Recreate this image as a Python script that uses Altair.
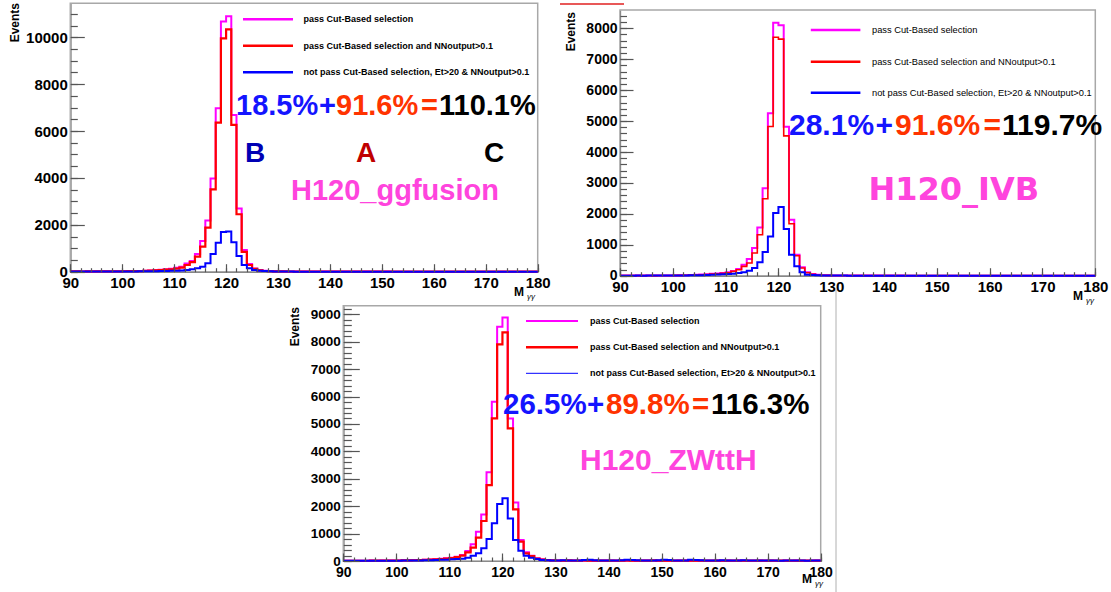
import altair as alt
import pandas as pd

W, H = 1111, 592
FONT = "Liberation Sans"

# bin edges of the diphoton mass histograms (1 GeV bins, 90-180 GeV)
mass_edges = list(range(90, 181))

legend_labels = [
    "pass Cut-Based selection",
    "pass Cut-Based selection and NNoutput>0.1",
    "not pass Cut-Based selection, Et>20 & NNoutput>0.1",
]

# ---------------- H120 ggfusion ----------------
gg_pass = [12, 15, 10, 14, 12, 16, 18, 15, 20, 22,
           25, 28, 30, 35, 40, 55, 68, 82, 100, 125,
           170, 215, 355, 455, 755, 1310, 2180, 3980, 6970, 10670,
           10900, 6690, 2700, 925, 330, 140, 72, 42, 28, 20,
           15, 12, 10, 9, 8, 8, 7, 7, 6, 6,
           6, 5, 5, 5, 5, 4, 4, 4, 4, 4,
           4, 4, 3, 3, 3, 3, 3, 3, 3, 3,
           3, 3, 3, 2, 2, 2, 2, 2, 2, 2,
           2, 2, 2, 2, 2, 2, 2, 2, 2, 2]
gg_nn = [10, 12, 8, 11, 10, 13, 14, 12, 16, 18,
         20, 22, 24, 28, 32, 44, 55, 68, 85, 100,
         130, 170, 285, 410, 640, 1070, 1880, 3510, 6360, 9950,
         10340, 6260, 2450, 850, 285, 125, 58, 30, 20, 15,
         12, 10, 8, 7, 6, 6, 5, 5, 5, 5,
         4, 4, 4, 4, 4, 3, 3, 3, 3, 3,
         3, 3, 3, 2, 2, 2, 2, 2, 2, 2,
         2, 2, 2, 2, 2, 2, 2, 2, 2, 2,
         2, 2, 2, 1, 1, 1, 1, 1, 1, 1]
gg_notpass = [5, 6, 4, 5, 6, 7, 6, 8, 9, 10,
              10, 12, 13, 15, 17, 20, 23, 26, 30, 36,
              45, 55, 72, 100, 142, 213, 356, 755, 1240, 1690,
              1710, 1255, 670, 285, 142, 72, 43, 25, 15, 10,
              5, 4, 4, 3, 3, 3, 3, 3, 2, 2,
              2, 2, 2, 2, 2, 2, 2, 1, 1, 1,
              1, 1, 1, 1, 1, 1, 1, 1, 1, 1,
              1, 1, 1, 1, 1, 1, 1, 1, 1, 1,
              1, 1, 1, 1, 1, 1, 1, 1, 1, 1]

# ---------------- H120 IVB ----------------
ivb_pass = [3, 4, 3, 5, 4, 6, 5, 7, 8, 9,
            10, 12, 18, 22, 28, 36, 45, 62, 75, 86,
            108, 150, 215, 355, 540, 895, 1560, 2830, 5250, 8180,
            8100, 4820, 1810, 680, 270, 108, 54, 32, 18, 12,
            8, 7, 6, 5, 5, 4, 4, 4, 3, 3,
            3, 3, 3, 3, 2, 2, 2, 2, 2, 2,
            2, 2, 2, 2, 2, 2, 2, 2, 2, 2,
            1, 1, 1, 1, 1, 1, 1, 1, 1, 1,
            1, 1, 1, 1, 1, 1, 1, 1, 1, 1]
ivb_nn = [2, 3, 2, 4, 3, 5, 4, 6, 7, 8,
          9, 10, 15, 19, 24, 30, 38, 54, 65, 75,
          97, 140, 194, 302, 410, 732, 1325, 2490, 4825, 7710,
          7650, 4520, 1680, 646, 248, 97, 43, 22, 14, 9,
          7, 6, 5, 4, 4, 3, 3, 3, 3, 2,
          2, 2, 2, 2, 2, 2, 2, 2, 2, 2,
          2, 2, 1, 1, 1, 1, 1, 1, 1, 1,
          1, 1, 1, 1, 1, 1, 1, 1, 1, 1,
          1, 1, 1, 1, 1, 1, 1, 1, 1, 1]
ivb_notpass = [2, 2, 1, 3, 2, 3, 3, 4, 4, 5,
               6, 7, 9, 11, 14, 18, 22, 28, 36, 45,
               54, 65, 86, 108, 162, 248, 431, 765, 1270, 2025,
               2220, 1510, 680, 302, 108, 32, 20, 12, 8, 5,
               4, 3, 3, 2, 2, 2, 2, 2, 1, 1,
               1, 1, 1, 1, 1, 1, 1, 1, 1, 1,
               1, 1, 1, 1, 1, 1, 1, 1, 1, 1,
               1, 1, 1, 1, 1, 1, 1, 1, 1, 1,
               1, 1, 1, 1, 1, 1, 1, 1, 1, 1]

# ---------------- H120 ZWttH ----------------
zw_pass = [10, 12, 8, 11, 12, 14, 13, 15, 16, 18,
           20, 24, 28, 32, 38, 45, 55, 65, 80, 97,
           122, 158, 220, 365, 610, 1070, 1700, 3235, 5810, 8550,
           8880, 5200, 2130, 766, 316, 195, 97, 61, 40, 28,
           20, 18, 22, 15, 14, 20, 16, 12, 18, 14,
           15, 12, 16, 20, 14, 12, 18, 15, 22, 13,
           14, 16, 12, 19, 15, 12, 14, 17, 13, 12,
           15, 13, 18, 12, 14, 16, 12, 13, 15, 12,
           14, 12, 13, 16, 12, 14, 12, 13, 12, 14]
zw_nn = [8, 10, 7, 9, 10, 12, 11, 13, 14, 16,
         18, 21, 25, 28, 33, 40, 48, 57, 70, 85,
         109, 146, 195, 316, 486, 851, 1460, 2770, 5200, 7900,
         8340, 4840, 1885, 705, 280, 182, 85, 52, 34, 24,
         18, 16, 20, 13, 12, 18, 14, 11, 16, 12,
         13, 11, 14, 18, 12, 11, 16, 13, 20, 12,
         12, 14, 11, 17, 13, 11, 12, 15, 12, 11,
         13, 12, 16, 11, 12, 14, 11, 12, 13, 11,
         12, 11, 12, 14, 11, 12, 11, 12, 11, 12]
zw_notpass = [6, 8, 5, 7, 8, 9, 8, 10, 11, 12,
              13, 15, 17, 19, 22, 26, 30, 36, 42, 50,
              60, 72, 85, 122, 195, 280, 462, 803, 1375, 2080,
              2290, 1555, 766, 377, 195, 122, 73, 40, 28, 20,
              18, 25, 15, 14, 22, 35, 45, 30, 18, 15,
              20, 16, 30, 48, 40, 25, 18, 22, 15, 30,
              42, 35, 20, 16, 22, 50, 38, 25, 18, 15,
              22, 30, 18, 15, 20, 25, 16, 14, 18, 15,
              14, 16, 13, 18, 15, 14, 16, 13, 15, 14]

MAGENTA, RED, BLUE = "#ff00ff", "#ff0000", "#0000ff"
TXT_BLUE, TXT_RED, TXT_PINK = "#1414ff", "#ff3300", "#ff44dd"


def text(s, x, y, size, color="black", weight="bold", align="left",
         baseline="alphabetic", font=FONT, angle=0, style="normal"):
    return alt.Chart(pd.DataFrame({"t": [s]})).mark_text(
        align=align, baseline=baseline, font=font, fontSize=size,
        fontWeight=weight, color=color, angle=angle, fontStyle=style,
    ).encode(x=alt.value(x), y=alt.value(y), text="t:N")


def hseg(xa, xb, y, color, width):
    return alt.Chart(pd.DataFrame({"k": [0]})).mark_rule(
        color=color, strokeWidth=width
    ).encode(x=alt.value(xa), x2=alt.value(xb), y=alt.value(y))


def vseg(x, ya, yb, color, width):
    return alt.Chart(pd.DataFrame({"k": [0]})).mark_rule(
        color=color, strokeWidth=width
    ).encode(x=alt.value(x), y=alt.value(ya), y2=alt.value(yb))


def panel(series, box, ymax, y_major, y_minor, ytick, xlab_size, ylab_size):
    x0, x1, yb, yt = box
    xs = alt.Scale(domain=[90, 180], range=[x0, x1], nice=False, zero=False)
    ys = alt.Scale(domain=[0, ymax], range=[yb, yt], nice=False, zero=False)
    x_major = list(range(90, 181, 10))
    x_minor = list(range(90, 181, 2))
    layers = []

    frame = pd.DataFrame({"m0": [90], "m1": [180], "n0": [0], "n1": [ymax]})
    layers.append(alt.Chart(frame).mark_rect(
        fillOpacity=0, stroke="#a8a8a8", strokeWidth=1.5
    ).encode(x=alt.X("m0:Q", scale=xs, axis=None), x2="m1:Q",
             y=alt.Y("n0:Q", scale=ys, axis=None), y2="n1:Q"))

    anchor = pd.DataFrame({"m": [90], "n": [0]})
    # axis lines and labels
    layers.append(alt.Chart(anchor).mark_point(opacity=0).encode(
        x=alt.X("m:Q", scale=xs, axis=alt.Axis(
            orient="bottom", offset=yb - H, values=x_major, format="d",
            ticks=False, labelPadding=4, title=None, labelFontSize=xlab_size)),
        y=alt.Y("n:Q", scale=ys, axis=alt.Axis(
            orient="left", offset=-x0, values=y_major, format="d",
            ticks=False, labelPadding=3, title=None, labelFontSize=ylab_size)),
    ))
    # major ticks pointing into the frame
    layers.append(alt.Chart(anchor).mark_point(opacity=0).encode(
        x=alt.X("m:Q", scale=xs, axis=alt.Axis(
            orient="top", offset=-yb, values=x_major, labels=False,
            domain=False, tickSize=8, title=None, zindex=1)),
        y=alt.Y("n:Q", scale=ys, axis=alt.Axis(
            orient="right", offset=x0 - W, values=y_major, labels=False,
            domain=False, tickSize=ytick, title=None, zindex=1)),
    ))
    # minor ticks
    layers.append(alt.Chart(anchor).mark_point(opacity=0).encode(
        x=alt.X("m:Q", scale=xs, axis=alt.Axis(
            orient="top", offset=-yb, values=x_minor, labels=False,
            domain=False, tickSize=4, title=None, zindex=1)),
        y=alt.Y("n:Q", scale=ys, axis=alt.Axis(
            orient="right", offset=x0 - W, values=y_minor, labels=False,
            domain=False, tickSize=ytick / 2, title=None, zindex=1)),
    ))

    for vals, color, sw in series:
        df = pd.DataFrame({"m": mass_edges, "n": vals + vals[-1:]})
        layers.append(alt.Chart(df).mark_line(
            interpolate="step-after", color=color, strokeWidth=sw
        ).encode(x=alt.X("m:Q", scale=xs, axis=None),
                 y=alt.Y("n:Q", scale=ys, axis=None)))
    return layers


def legend(xa, xb, xt, rows, size, weight, widths):
    out = []
    for lab, color, y, w in zip(legend_labels, [MAGENTA, RED, BLUE], rows, widths):
        out.append(hseg(xa, xb, y, color, w))
        out.append(text(lab, xt, y, size, weight=weight, baseline="middle"))
    return out


def sum_line(parts, y, size):
    return [text(s, x, y, size, color=c) for s, x, c in parts]


def mass_title(x, y):
    return [text("M", x, y, 12), text("γγ", x + 13, y + 3, 8, weight="normal", style="italic")]


layers = []

# ---- top left: ggfusion ----
layers += panel([(gg_pass, MAGENTA, 2), (gg_nn, RED, 2.2), (gg_notpass, BLUE, 2)],
                (70.3, 537.7, 271.7, 3.3), 11450,
                list(range(0, 10001, 2000)), list(range(0, 11001, 500)), 14, 15, 15)
layers += legend(243, 293, 303.6, [19.3, 45.7, 72.3], 9, "bold", [2.5, 2.5, 2.5])
layers += sum_line([("18.5%", 236, TXT_BLUE), ("+", 319, TXT_BLUE), ("91.6%", 336, TXT_RED),
                    ("=", 421, TXT_RED), ("110.1%", 439, "black")], 115, 29)
layers += [text("B", 255, 162, 28, color="#0000b4", align="center"),
           text("A", 366, 162, 28, color="#c00000", align="center"),
           text("C", 494, 162, 28, color="black", align="center"),
           text("H120_ggfusion", 291, 200, 29, color=TXT_PINK),
           text("Events", 15, 3, 12, angle=270, align="right", baseline="middle")]
layers += mass_title(514, 296)

# ---- top right: IVB ----
layers += panel([(ivb_pass, MAGENTA, 2), (ivb_nn, RED, 1.6), (ivb_notpass, BLUE, 2)],
                (620, 1095.3, 275.7, 10), 8592,
                list(range(0, 8001, 1000)), list(range(0, 8401, 200)), 13, 15, 14)
layers += legend(810.8, 860.4, 872, [30, 61.7, 92.7], 9.3, "normal", [2.5, 2.5, 2.5])
layers += sum_line([("28.1%", 789, TXT_BLUE), ("+", 875.6, TXT_BLUE), ("91.6%", 895, TXT_RED),
                    ("=", 983.6, TXT_RED), ("119.7%", 1002, "black")], 135, 30)
layers += [text("H120_IVB", 868.5, 200, 32, color=TXT_PINK, font="DejaVu Sans"),
           text("Events", 570.5, 12, 12, angle=270, align="right", baseline="middle")]
layers += mass_title(1073, 300)

# ---- bottom: ZWttH ----
layers += panel([(zw_pass, MAGENTA, 2), (zw_nn, RED, 2.2), (zw_notpass, BLUE, 2)],
                (343.3, 820.7, 561, 305.7), 9314,
                list(range(0, 9001, 1000)), list(range(0, 9201, 200)), 16, 14, 13.5)
layers += legend(526, 578, 590, [321, 347.3, 373.3], 9, "bold", [2, 2.5, 1])
layers += sum_line([("26.5%", 503, TXT_BLUE), ("+", 587, TXT_BLUE), ("89.8%", 606, TXT_RED),
                    ("=", 692, TXT_RED), ("116.3%", 711, "black")], 414, 29.5)
layers += [text("H120_ZWttH", 580, 470, 30, color=TXT_PINK),
           text("Events", 294.5, 307, 12, angle=270, align="right", baseline="middle")]
layers += mass_title(802, 583)

# slide decorations
layers += [hseg(560, 624, 4, "#e02020", 1.5), vseg(836, 288, 592, "#b0b0b0", 1)]

chart = alt.layer(*layers).resolve_scale(
    x="independent", y="independent"
).properties(
    width=W, height=H, padding=0, autosize="none", background="white"
).configure_view(stroke=None).configure_axis(
    grid=False, labelFont=FONT, labelFontWeight="bold", labelColor="black",
    domainColor="#333333", tickColor="#555555", tickWidth=1.2, domainWidth=1.2,
    labelFlush=False, labelOverlap=False,
)

chart.save("out.html", embed_options={"renderer": "svg", "actions": False})
